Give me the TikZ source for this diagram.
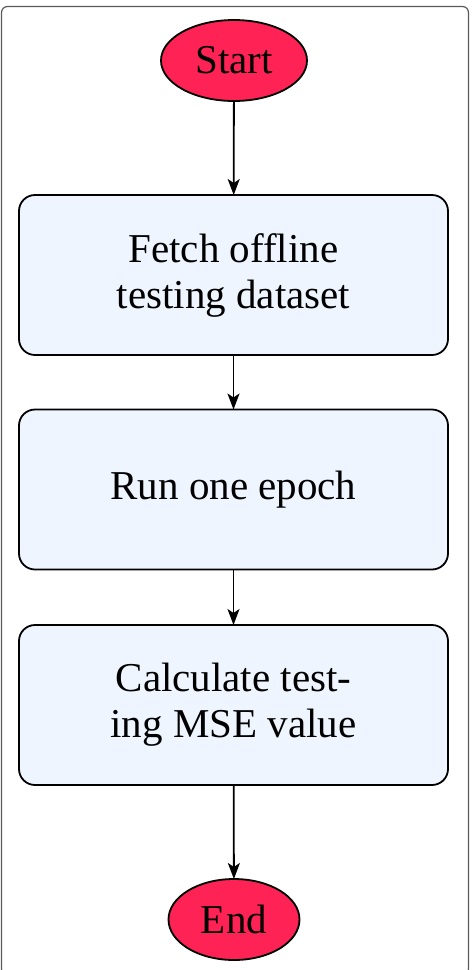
\documentclass[tikz,border=0pt]{standalone}
\usepackage{fontspec}
\setmainfont{Liberation Serif}
\usetikzlibrary{shapes.geometric,arrows.meta}
\definecolor{termred}{RGB}{255,34,84}
\definecolor{boxblue}{RGB}{238,245,255}
\definecolor{framegray}{RGB}{90,90,90}
\begin{document}
\begin{tikzpicture}[x=1pt,y=-1pt,
  term/.style={ellipse,draw=black,fill=termred,line width=1.8pt,inner sep=0pt,outer sep=0pt,font=\fontsize{41}{46}\selectfont},
  proc/.style={rectangle,rounded corners=16pt,draw=black,fill=boxblue,line width=1.8pt,minimum width=429pt,minimum height=160pt,inner sep=0pt,outer sep=0pt,align=center,font=\fontsize{41}{46}\selectfont},
  flow/.style={line width=1.8pt,-{Stealth[length=16pt,width=12pt,inset=4pt]}}]
\useasboundingbox (0,0) rectangle (472,970);
\draw[framegray,line width=1.2pt,rounded corners=6pt] (1.5,6.5) rectangle (468.5,975);
\node[term,minimum width=146pt,minimum height=81pt] (start) at (234,60.5) {Start};
\node[proc] (fetch) at (233.5,275) {Fetch offline\\testing dataset};
\node[proc] (run) at (233.5,489.5) {Run one epoch};
\node[proc] (calc) at (233.5,705) {Calculate test-\\ing MSE value};
\node[term,minimum width=131pt,minimum height=81pt] (end) at (234,919.5) {End};
\draw[flow] (start) -- (fetch);
\draw[flow] (fetch) -- (run);
\draw[flow] (run) -- (calc);
\draw[flow] (calc) -- (end);
\end{tikzpicture}
\end{document}
